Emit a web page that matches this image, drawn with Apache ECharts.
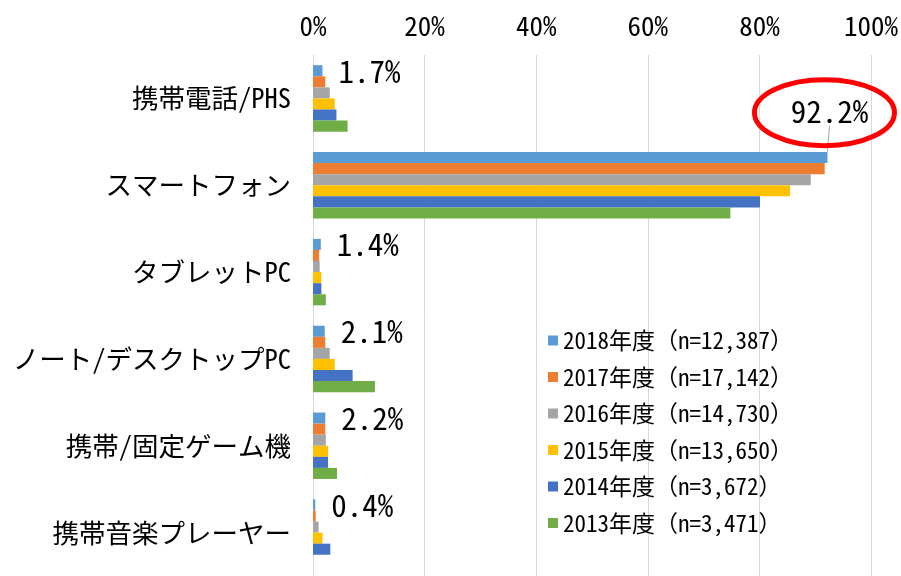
<!DOCTYPE html>
<html>
<head>
<meta charset="utf-8">
<script src="https://cdn.jsdelivr.net/npm/echarts@6/dist/echarts.min.js"></script>
<style>
  html, body { margin: 0; padding: 0; background: #fff; }
  #main { width: 901px; height: 576px; }
</style>
</head>
<body>
<div id="main"></div>
<script>
// 端末カテゴリ
var categories = ['携帯電話/PHS', 'スマートフォン', 'タブレットPC', 'ノート/デスクトップPC', '携帯/固定ゲーム機', '携帯音楽プレーヤー'];
var seriesNames = ['2018年度（n=12,387）', '2017年度（n=17,142）', '2016年度（n=14,730）', '2015年度（n=13,650）', '2014年度（n=3,672）', '2013年度（n=3,471）'];
var colors = ['#5B9BD5', '#ED7D31', '#A5A5A5', '#FFC000', '#4472C4', '#70AD47'];
var xTicks = [0, 20, 40, 60, 80, 100];

var data2018 = [1.7, 92.2, 1.4, 2.1, 2.2, 0.4];
var data2017 = [2.2, 91.7, 1.1, 2.2, 2.2, 0.5];
var data2016 = [3.0, 89.2, 1.2, 3.0, 2.3, 1.0];
var data2015 = [3.9, 85.5, 1.5, 3.9, 2.7, 1.7];
var data2014 = [4.2, 80.1, 1.5, 7.1, 2.7, 3.1];
var data2013 = [6.2, 74.8, 2.3, 11.1, 4.3, null];
var allData = [data2018, data2017, data2016, data2015, data2014, data2013];

var FONT = "'Noto Sans Mono CJK JP', 'DejaVu Sans Mono', monospace";
var highlightIdx = 1; // スマートフォン 2018年度

var myChart = echarts.init(document.getElementById('main'));

var series = [];
for (var i = 0; i < allData.length; i++) {
    var s = {
        name: seriesNames[i],
        type: 'bar',
        data: allData[i],
        itemStyle: { color: colors[i] },
        barGap: '0%',
        barCategoryGap: '23.5%',
        animation: false
    };
    if (i === 0) {
        // 2018年度だけ数値を表示
        s.data = allData[i].map(function (v, k) {
            if (k === highlightIdx) {
                return {
                    value: v,
                    label: {
                        show: true,
                        position: ['100%', 0],
                        offset: [2, -41],
                        align: 'center',
                        verticalAlign: 'middle'
                    }
                };
            }
            return v;
        });
        s.label = {
            show: true,
            position: 'right',
            distance: 16,
            fontFamily: FONT,
            fontSize: 31,
            color: '#000',
            formatter: function (p) { return p.value.toFixed(1) + '%'; }
        };
    }
    series.push(s);
}

var option = {
    backgroundColor: '#fff',
    textStyle: { fontFamily: FONT },
    grid: { left: 313, right: 28, top: 55, height: 527 },
    legend: {
        data: seriesNames,
        orient: 'vertical',
        left: 543,
        top: 324,
        itemWidth: 10,
        itemHeight: 10,
        itemGap: 13.5,
        icon: 'rect',
        textStyle: { fontFamily: FONT, fontSize: 23, color: '#000' }
    },
    xAxis: {
        type: 'value',
        position: 'top',
        min: 0,
        max: 100,
        interval: 20,
        axisLine: { show: false },
        axisTick: { show: false },
        splitLine: { lineStyle: { color: '#D9D9D9', width: 1 } },
        axisLabel: {
            margin: 16,
            fontFamily: FONT,
            fontSize: 27,
            color: '#000',
            formatter: function (v) { return xTicks.indexOf(v) >= 0 ? v + '%' : ''; }
        }
    },
    yAxis: {
        type: 'category',
        inverse: true,
        data: categories,
        axisLine: { lineStyle: { color: '#D9D9D9', width: 1 } },
        axisTick: { show: false },
        axisLabel: {
            margin: 22,
            fontFamily: FONT,
            fontSize: 26.5,
            color: '#000'
        }
    },
    series: series
};

myChart.setOption(option);

// 92.2% を囲む赤い楕円と引き出し線
var end = myChart.convertToPixel({ gridIndex: 0 }, [data2018[highlightIdx], categories[highlightIdx]]);
var band = 527 / categories.length;
var barTop = end[1] - band * (1 - 0.235) / 2;
var labelCy = barTop - 41;
myChart.setOption({
    graphic: [
        {
            type: 'line',
            shape: { x1: end[0] + 2, y1: labelCy + 15, x2: end[0], y2: barTop },
            style: { stroke: '#A6A6A6', lineWidth: 1 },
            z: 100
        },
        {
            type: 'ellipse',
            shape: { cx: end[0] - 3, cy: labelCy + 2, rx: 70, ry: 33 },
            style: { fill: 'none', stroke: '#FF0000', lineWidth: 5 },
            z: 100
        }
    ]
});
</script>
</body>
</html>
